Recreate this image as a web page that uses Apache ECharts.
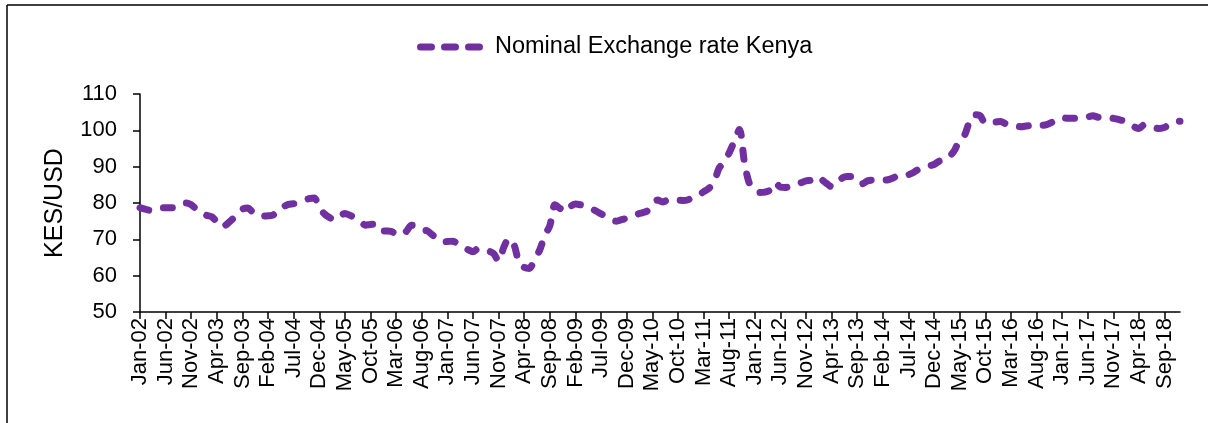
<!DOCTYPE html>
<html>
<head>
<meta charset="utf-8">
<script src="https://cdn.jsdelivr.net/npm/echarts@6/dist/echarts.min.js"></script>
<style>
  html, body { margin: 0; padding: 0; background: #fff; }
  #chart { width: 1208px; height: 423px; }
</style>
</head>
<body>
<div id="chart"></div>
<script>
// monthly labels Jan-02 .. Dec-18
const monthNames = ['Jan', 'Feb', 'Mar', 'Apr', 'May', 'Jun', 'Jul', 'Aug', 'Sep', 'Oct', 'Nov', 'Dec'];
const years = ['02', '03', '04', '05', '06', '07', '08', '09', '10', '11', '12', '13', '14', '15', '16', '17', '18'];
const categories = [];
years.forEach(y => monthNames.forEach(m => categories.push(m + '-' + y)));

// KES per USD, one row per year
const kesUsd = [
  78.7, 78.3, 78.0, 78.4, 78.7, 78.7, 78.7, 78.8, 79.3, 80.0, 79.5, 78.3,   // 2002
  77.3, 76.6, 76.2, 74.8, 73.4, 74.2, 75.5, 76.8, 78.3, 78.6, 77.5, 76.6,   // 2003
  76.4, 76.5, 76.7, 78.4, 79.0, 79.6, 79.8, 80.3, 80.8, 81.2, 81.4, 78.7,   // 2004
  77.0, 76.0, 75.3, 76.4, 77.1, 76.6, 75.9, 75.0, 73.9, 74.1, 74.2, 72.4,   // 2005
  72.3, 72.2, 71.5, 71.2, 72.2, 73.9, 73.5, 72.5, 72.4, 71.3, 70.2, 69.3,   // 2006
  69.4, 69.5, 68.8, 68.0, 67.2, 66.6, 67.4, 67.0, 66.8, 66.1, 64.0, 67.8,   // 2007
  70.2, 68.5, 63.6, 62.3, 62.0, 64.5, 67.0, 71.0, 73.8, 79.5, 78.5, 77.6,   // 2008
  79.0, 79.7, 79.5, 79.1, 78.5, 77.8, 77.0, 76.3, 75.5, 75.0, 75.4, 75.8,   // 2009
  76.3, 76.9, 77.3, 77.8, 79.8, 80.8, 80.3, 80.8, 81.0, 80.8, 80.7, 80.9,   // 2010
  81.6, 82.0, 83.1, 84.0, 85.5, 89.5, 91.2, 93.8, 97.0, 100.2, 91.0, 85.2,  // 2011
  84.0, 82.9, 83.0, 83.6, 85.6, 84.4, 84.3, 84.6, 85.2, 85.6, 86.1, 86.3,   // 2012
  87.2, 86.5, 85.4, 84.5, 85.5, 86.8, 87.3, 87.3, 86.5, 85.3, 86.1, 86.3,   // 2013
  86.3, 86.3, 86.4, 86.9, 87.6, 87.7, 87.8, 88.4, 89.3, 89.7, 90.2, 90.6,   // 2014
  91.5, 91.8, 92.8, 94.5, 97.5, 98.8, 102.8, 104.3, 104.0, 102.0, 102.2, 102.3, // 2015
  102.4, 101.8, 101.4, 101.2, 101.0, 101.2, 101.4, 101.6, 101.4, 101.6, 102.2, 103.0, // 2016
  103.5, 103.3, 103.3, 103.3, 103.5, 103.7, 104.0, 103.6, 103.4, 103.5, 103.3, 103.0, // 2017
  102.6, 101.9, 101.0, 100.5, 101.5, 101.0, 100.7, 100.5, 100.8, 101.8, 102.4, 102.5  // 2018
];

const yTicks = { min: 50, max: 110, step: 10 };

const FONT = 'Liberation Sans, Arial, sans-serif';
const PURPLE = '#7030A0';

// three rounded dashes for the legend key (66 x 7)
const dashIcon = 'path://M3.5,0H14.5A3.5,3.5,0,0,1,14.5,7H3.5A3.5,3.5,0,0,1,3.5,0Z' +
  'M27.5,0H38.5A3.5,3.5,0,0,1,38.5,7H27.5A3.5,3.5,0,0,1,27.5,0Z' +
  'M51.5,0H62.5A3.5,3.5,0,0,1,62.5,7H51.5A3.5,3.5,0,0,1,51.5,0Z';

var myChart = echarts.init(document.getElementById('chart'));
var option;

option = {
  backgroundColor: '#fff',
  animation: false,
  graphic: [
    { type: 'line', shape: { x1: 7, y1: 5, x2: 1208, y2: 5 }, style: { stroke: '#000', lineWidth: 1.5 }, silent: true },
    { type: 'line', shape: { x1: 7, y1: 5, x2: 7, y2: 423 }, style: { stroke: '#000', lineWidth: 1.5 }, silent: true }
  ],
  legend: {
    left: 412,
    top: 30,
    icon: dashIcon,
    itemWidth: 66,
    itemHeight: 7,
    textStyle: { fontFamily: FONT, fontSize: 23.5, color: '#000', padding: [0, 0, 0, 7] },
    data: ['Nominal Exchange rate Kenya']
  },
  grid: { left: 140, right: 28, top: 94, bottom: 111 },
  xAxis: {
    type: 'category',
    data: categories,
    boundaryGap: false,
    axisLine: { lineStyle: { color: '#000', width: 1.5 } },
    axisTick: { interval: 4, length: 7, lineStyle: { color: '#000', width: 1.5 } },
    axisLabel: {
      interval: 4,
      rotate: 90,
      margin: 6,
      fontFamily: FONT,
      fontSize: 22,
      color: '#000'
    },
    splitLine: { show: false }
  },
  yAxis: {
    type: 'value',
    min: yTicks.min,
    max: yTicks.max,
    interval: yTicks.step,
    name: 'KES/USD',
    nameLocation: 'middle',
    nameGap: 72,
    nameTextStyle: { fontFamily: FONT, fontSize: 25, color: '#000' },
    axisLine: { show: true, lineStyle: { color: '#000', width: 1.5 } },
    axisTick: { show: true, length: 7, lineStyle: { color: '#000', width: 1.5 } },
    axisLabel: { margin: 23, fontFamily: FONT, fontSize: 22, color: '#000' },
    splitLine: { show: false }
  },
  series: [{
    name: 'Nominal Exchange rate Kenya',
    type: 'line',
    data: kesUsd,
    symbol: 'none',
    smooth: 0.3,
    itemStyle: { color: PURPLE },
    lineStyle: { color: PURPLE, width: 7, type: [9, 15], cap: 'round', join: 'round' }
  }]
};

option && myChart.setOption(option);
</script>
</body>
</html>
